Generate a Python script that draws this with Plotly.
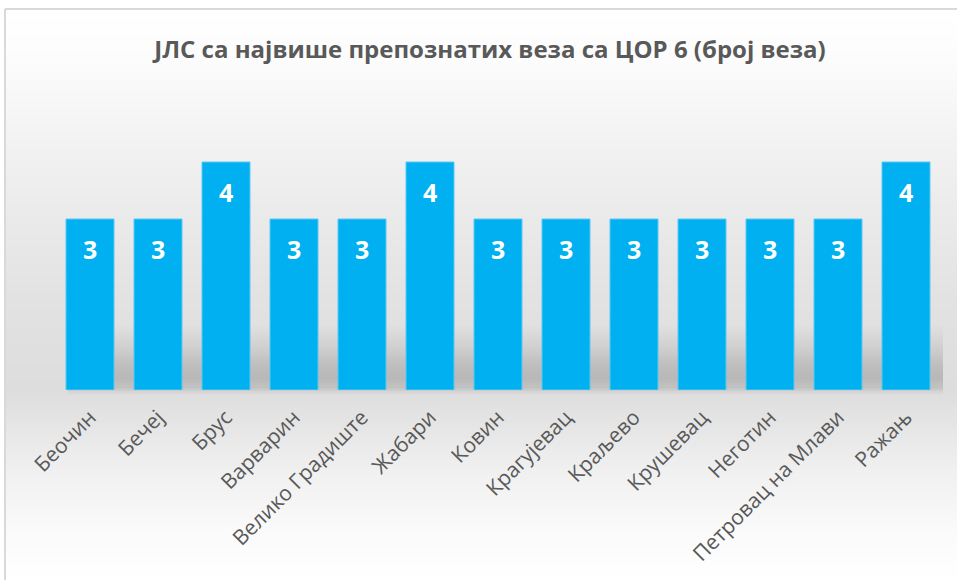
import plotly.graph_objects as go

categories = ["Беочин", "Бечеј", "Брус", "Варварин", "Велико Градиште", "Жабари",
              "Ковин", "Крагујевац", "Краљево", "Крушевац", "Неготин",
              "Петровац на Млави", "Ражањ"]
values = [3, 3, 4, 3, 3, 4, 3, 3, 3, 3, 3, 3, 4]
title_text = "ЈЛС са највише препознатих веза са ЦОР 6 (број веза)"

W, H = 957, 580
ML, MR, MT, MB = 56, 17, 105, 190
PW, PH = W - ML - MR, H - MT - MB


def px_x(px):
    return (px - ML) / PW


def px_y(py):
    return (H - MB - py) / PH


def interp(stops, v):
    for (a, ca), (b, cb) in zip(stops, stops[1:]):
        if a <= v <= b:
            t = (v - a) / (b - a) if b != a else 0
            return ca + (cb - ca) * t
    return stops[-1][1] if v > stops[-1][0] else stops[0][1]


bg_stops = [(9, 255), (60, 252), (120, 245), (200, 236), (300, 226),
            (390, 221), (420, 228), (470, 240), (530, 250), (580, 255)]
shadow_stops = [(325, 0), (345, 14), (362, 30), (378, 38), (388, 26), (392, 8), (395, 0)]

shapes = []
step = 3
for py in range(9, H, step):
    g = int(round(interp(bg_stops, py + step / 2)))
    col = f"rgb({g},{g},{g})"
    shapes.append(dict(type="rect", xref="paper", yref="paper",
                       x0=px_x(5), x1=px_x(W), y0=px_y(py + step), y1=px_y(py),
                       fillcolor=col, line=dict(width=0), layer="below"))
for py in range(325, 395, 2):
    g = interp(bg_stops, py + 1) - interp(shadow_stops, py + 1)
    g = int(round(g))
    col = f"rgb({g},{g},{g})"
    shapes.append(dict(type="rect", xref="paper", yref="paper",
                       x0=px_x(68), x1=px_x(943), y0=px_y(py + 2), y1=px_y(py),
                       fillcolor=col, line=dict(width=0), layer="below"))
# frame lines (top and left)
shapes.append(dict(type="line", xref="paper", yref="paper",
                   x0=px_x(5), x1=px_x(W), y0=px_y(9), y1=px_y(9),
                   line=dict(color="#d9d9d9", width=2), layer="below"))
shapes.append(dict(type="line", xref="paper", yref="paper",
                   x0=px_x(5), x1=px_x(5), y0=px_y(9), y1=px_y(H),
                   line=dict(color="#d9d9d9", width=2), layer="below"))

fig = go.Figure()
fig.add_trace(go.Bar(
    x=categories, y=values,
    marker=dict(color="#00B0F0", line=dict(color="#5cc8f2", width=1)),
    hoverinfo="x+y",
))

annotations = []
for c, v in zip(categories, values):
    annotations.append(dict(x=c, y=v, xref="x", yref="y", text=str(v),
                            showarrow=False, yshift=-30, yanchor="middle",
                            font=dict(family="Open Sans", size=25, color="white",
                                      weight="bold")))

fig.update_layout(
    width=W, height=H,
    margin=dict(l=ML, r=MR, t=MT, b=MB, autoexpand=False),
    paper_bgcolor="white",
    plot_bgcolor="rgba(0,0,0,0)",
    bargap=0.294,
    showlegend=False,
    title=dict(text=title_text, x=px_x(490), xref="paper", xanchor="center",
               y=1 - 50 / H, yanchor="middle",
               font=dict(family="Open Sans", size=24, color="#595959", weight="bold")),
    xaxis=dict(tickangle=-45, showgrid=False, showline=False, zeroline=False,
               ticks="", automargin=False, ticklabelstandoff=10,
               tickfont=dict(family="Open Sans", size=21, color="#595959")),
    yaxis=dict(range=[0, 5], visible=False, showgrid=False, zeroline=False),
    shapes=shapes,
    annotations=annotations,
)

fig.write_html("out.html", config=dict(displayModeBar=False),
               post_script="document.body.style.margin='0';document.body.style.overflow='hidden';")
